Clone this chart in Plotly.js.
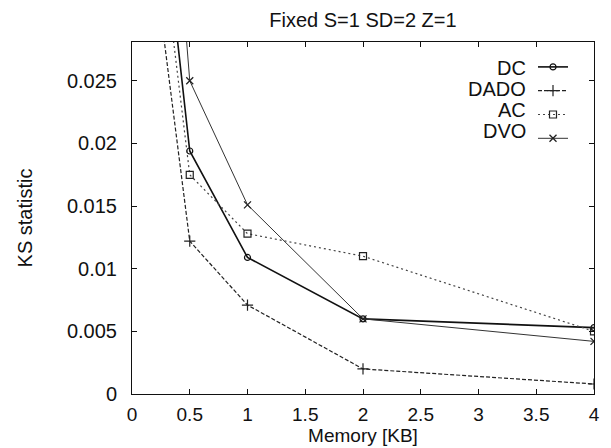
<!DOCTYPE html>
<html>
<head>
<meta charset="utf-8">
<script src="https://cdn.plot.ly/plotly-3.0.1.min.js"></script>
<style>html,body{margin:0;padding:0;background:#fff;}#chart{width:611px;height:448px;}</style>
</head>
<body>
<div id="chart"></div>
<script>
const memory = [0.25, 0.5, 1, 2, 4];
const dcValues = [0.0402, 0.0194, 0.0109, 0.0060, 0.0053];
const dadoValues = [0.0303, 0.0122, 0.0071, 0.0020, 0.0008];
const acValues = [0.0365, 0.0175, 0.0128, 0.0110, 0.0050];
const dvoValues = [0.0539, 0.0250, 0.0151, 0.0060, 0.0042];
const seriesNames = ['DC', 'DADO', 'AC', 'DVO'];
const xTicks = [0, 0.5, 1, 1.5, 2, 2.5, 3, 3.5, 4];
const xTickLabels = ['0', '0.5', '1', '1.5', '2', '2.5', '3', '3.5', '4'];
const yTicks = [0, 0.005, 0.01, 0.015, 0.02, 0.025];
const yTickLabels = ['0', '0.005', '0.01', '0.015', '0.02', '0.025'];

const font = 'Liberation Sans, Arial, sans-serif';
const traces = [
  {x: memory, y: dcValues, name: '', mode: 'lines+markers',
   line: {color: '#111', width: 1.6, dash: 'solid'},
   marker: {symbol: 'circle-open', size: 6, color: '#111', line: {width: 1.2}}},
  {x: memory, y: dadoValues, name: '', mode: 'lines+markers',
   line: {color: '#222', width: 1.2, dash: '4px,2px'},
   marker: {symbol: 'cross-thin-open', size: 8, color: '#222', line: {width: 1.2}}},
  {x: memory, y: acValues, name: '', mode: 'lines+markers',
   line: {color: '#444', width: 1.2, dash: '2px,3px'},
   marker: {symbol: 'square-open', size: 7, color: '#222', line: {width: 1.2}}},
  {x: memory, y: dvoValues, name: '', mode: 'lines+markers',
   line: {color: '#333', width: 1, dash: 'solid'},
   marker: {symbol: 'x-thin-open', size: 7, color: '#222', line: {width: 1.3}}}
];

const legendRowsY = [68, 89, 110, 131];
const annotations = seriesNames.map((n, i) => ({
  text: n, xref: 'paper', yref: 'paper',
  x: (528 - 132) / 462, xanchor: 'right',
  y: (394 - legendRowsY[i]) / 352, yanchor: 'middle',
  showarrow: false, font: {size: 20, family: font, color: '#111'}
}));

const layout = {
  width: 611, height: 448,
  margin: {l: 132, r: 17, t: 42, b: 54, pad: 0},
  paper_bgcolor: '#fff', plot_bgcolor: '#fff',
  font: {family: font, color: '#111', size: 20},
  title: {text: 'Fixed S=1 SD=2 Z=1', font: {family: font, size: 20, color: '#111'},
          x: 0.594, xanchor: 'center', y: 0.955, yanchor: 'middle'},
  xaxis: {range: [0, 4], tickvals: xTicks, ticktext: xTickLabels,
          ticks: 'inside', ticklen: 5, tickwidth: 1, tickcolor: '#111',
          showline: true, linecolor: '#111', linewidth: 1, mirror: 'ticks',
          showgrid: false, zeroline: false, tickfont: {size: 19},
          ticklabelstandoff: 3,
          title: {text: 'Memory [KB]', font: {size: 19}, standoff: 0}},
  yaxis: {range: [0, 0.0281], tickvals: yTicks, ticktext: yTickLabels,
          ticks: 'inside', ticklen: 5, tickwidth: 1, tickcolor: '#111',
          showline: true, linecolor: '#111', linewidth: 1, mirror: 'ticks',
          showgrid: false, zeroline: false, tickfont: {size: 20},
          ticklabelstandoff: 10,
          title: {text: 'KS statistic', font: {size: 20}, standoff: 28}},
  legend: {x: (533 - 132) / 462, y: (394 - 50) / 352, xanchor: 'left', yanchor: 'top',
           bgcolor: 'rgba(255,255,255,0)', borderwidth: 0,
           font: {size: 16}, tracegroupgap: 0},
  annotations: annotations,
  showlegend: true
};

Plotly.newPlot('chart', traces, layout, {staticPlot: true, displayModeBar: false});
</script>
</body>
</html>
